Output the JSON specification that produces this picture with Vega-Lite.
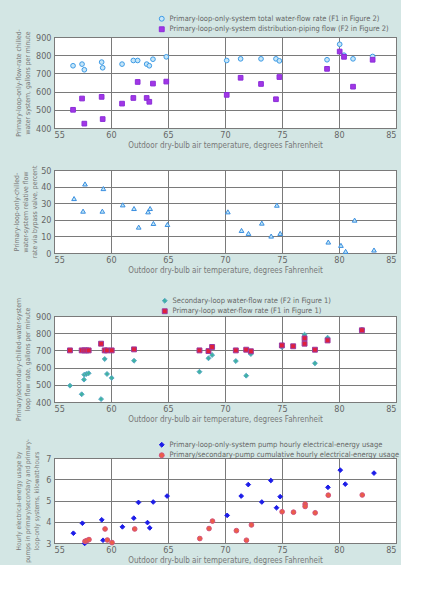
{
  "$schema": "https://vega.github.io/schema/vega-lite/v6.json",
  "background": "#d3e6e4",
  "padding": {"left": 13, "top": 14, "right": 0, "bottom": 0},
  "spacing": 14,
  "datasets": {
    "p1": [
      {"t":56.67,"v":742,"s":"Primary-loop-only-system total water-flow rate (F1 in Figure 2)"},
      {"t":57.46,"v":751,"s":"Primary-loop-only-system total water-flow rate (F1 in Figure 2)"},
      {"t":57.66,"v":720,"s":"Primary-loop-only-system total water-flow rate (F1 in Figure 2)"},
      {"t":59.18,"v":762,"s":"Primary-loop-only-system total water-flow rate (F1 in Figure 2)"},
      {"t":59.27,"v":731,"s":"Primary-loop-only-system total water-flow rate (F1 in Figure 2)"},
      {"t":60.97,"v":751,"s":"Primary-loop-only-system total water-flow rate (F1 in Figure 2)"},
      {"t":61.96,"v":771,"s":"Primary-loop-only-system total water-flow rate (F1 in Figure 2)"},
      {"t":62.34,"v":771,"s":"Primary-loop-only-system total water-flow rate (F1 in Figure 2)"},
      {"t":63.13,"v":751,"s":"Primary-loop-only-system total water-flow rate (F1 in Figure 2)"},
      {"t":63.36,"v":742,"s":"Primary-loop-only-system total water-flow rate (F1 in Figure 2)"},
      {"t":63.68,"v":778,"s":"Primary-loop-only-system total water-flow rate (F1 in Figure 2)"},
      {"t":64.85,"v":791,"s":"Primary-loop-only-system total water-flow rate (F1 in Figure 2)"},
      {"t":70.15,"v":771,"s":"Primary-loop-only-system total water-flow rate (F1 in Figure 2)"},
      {"t":71.37,"v":780,"s":"Primary-loop-only-system total water-flow rate (F1 in Figure 2)"},
      {"t":73.16,"v":780,"s":"Primary-loop-only-system total water-flow rate (F1 in Figure 2)"},
      {"t":74.47,"v":780,"s":"Primary-loop-only-system total water-flow rate (F1 in Figure 2)"},
      {"t":74.77,"v":769,"s":"Primary-loop-only-system total water-flow rate (F1 in Figure 2)"},
      {"t":78.95,"v":775,"s":"Primary-loop-only-system total water-flow rate (F1 in Figure 2)"},
      {"t":80.06,"v":860,"s":"Primary-loop-only-system total water-flow rate (F1 in Figure 2)"},
      {"t":80.44,"v":800,"s":"Primary-loop-only-system total water-flow rate (F1 in Figure 2)"},
      {"t":81.23,"v":780,"s":"Primary-loop-only-system total water-flow rate (F1 in Figure 2)"},
      {"t":82.95,"v":793,"s":"Primary-loop-only-system total water-flow rate (F1 in Figure 2)"},
      {"t":56.67,"v":500,"s":"Primary-loop-only-system distribution-piping flow (F2 in Figure 2)"},
      {"t":57.46,"v":562,"s":"Primary-loop-only-system distribution-piping flow (F2 in Figure 2)"},
      {"t":57.66,"v":424,"s":"Primary-loop-only-system distribution-piping flow (F2 in Figure 2)"},
      {"t":59.18,"v":571,"s":"Primary-loop-only-system distribution-piping flow (F2 in Figure 2)"},
      {"t":59.27,"v":449,"s":"Primary-loop-only-system distribution-piping flow (F2 in Figure 2)"},
      {"t":60.97,"v":534,"s":"Primary-loop-only-system distribution-piping flow (F2 in Figure 2)"},
      {"t":61.96,"v":565,"s":"Primary-loop-only-system distribution-piping flow (F2 in Figure 2)"},
      {"t":62.34,"v":653,"s":"Primary-loop-only-system distribution-piping flow (F2 in Figure 2)"},
      {"t":63.13,"v":565,"s":"Primary-loop-only-system distribution-piping flow (F2 in Figure 2)"},
      {"t":63.36,"v":544,"s":"Primary-loop-only-system distribution-piping flow (F2 in Figure 2)"},
      {"t":63.68,"v":644,"s":"Primary-loop-only-system distribution-piping flow (F2 in Figure 2)"},
      {"t":64.85,"v":655,"s":"Primary-loop-only-system distribution-piping flow (F2 in Figure 2)"},
      {"t":70.15,"v":582,"s":"Primary-loop-only-system distribution-piping flow (F2 in Figure 2)"},
      {"t":71.37,"v":676,"s":"Primary-loop-only-system distribution-piping flow (F2 in Figure 2)"},
      {"t":73.16,"v":642,"s":"Primary-loop-only-system distribution-piping flow (F2 in Figure 2)"},
      {"t":74.47,"v":558,"s":"Primary-loop-only-system distribution-piping flow (F2 in Figure 2)"},
      {"t":74.77,"v":680,"s":"Primary-loop-only-system distribution-piping flow (F2 in Figure 2)"},
      {"t":78.95,"v":725,"s":"Primary-loop-only-system distribution-piping flow (F2 in Figure 2)"},
      {"t":80.06,"v":820,"s":"Primary-loop-only-system distribution-piping flow (F2 in Figure 2)"},
      {"t":80.44,"v":791,"s":"Primary-loop-only-system distribution-piping flow (F2 in Figure 2)"},
      {"t":81.23,"v":627,"s":"Primary-loop-only-system distribution-piping flow (F2 in Figure 2)"},
      {"t":82.95,"v":775,"s":"Primary-loop-only-system distribution-piping flow (F2 in Figure 2)"}
    ],
    "p2": [
      {"t":56.76,"v":32.8},{"t":57.55,"v":25.2},{"t":57.72,"v":41.6},{"t":59.24,"v":25.2},
      {"t":59.33,"v":38.8},{"t":61.03,"v":29.0},{"t":62.02,"v":26.8},{"t":62.43,"v":15.6},
      {"t":63.25,"v":24.8},{"t":63.43,"v":26.8},{"t":63.72,"v":17.8},{"t":64.95,"v":17.2},
      {"t":70.25,"v":24.8},{"t":71.45,"v":13.6},{"t":72.06,"v":11.8},{"t":73.23,"v":18.0},
      {"t":74.05,"v":10.2},{"t":74.55,"v":28.8},{"t":74.84,"v":11.8},{"t":79.06,"v":6.6},
      {"t":80.17,"v":4.6},{"t":80.58,"v":1.0},{"t":81.37,"v":19.8},{"t":83.07,"v":1.8}
    ],
    "p3": [
      {"t":56.4,"v":495,"s":"Secondary-loop water-flow rate (F2 in Figure 1)"},
      {"t":57.43,"v":445,"s":"Secondary-loop water-flow rate (F2 in Figure 1)"},
      {"t":57.63,"v":530,"s":"Secondary-loop water-flow rate (F2 in Figure 1)"},
      {"t":57.66,"v":559,"s":"Secondary-loop water-flow rate (F2 in Figure 1)"},
      {"t":57.84,"v":563,"s":"Secondary-loop water-flow rate (F2 in Figure 1)"},
      {"t":58.04,"v":567,"s":"Secondary-loop water-flow rate (F2 in Figure 1)"},
      {"t":59.13,"v":417,"s":"Secondary-loop water-flow rate (F2 in Figure 1)"},
      {"t":59.45,"v":650,"s":"Secondary-loop water-flow rate (F2 in Figure 1)"},
      {"t":59.65,"v":563,"s":"Secondary-loop water-flow rate (F2 in Figure 1)"},
      {"t":60.06,"v":540,"s":"Secondary-loop water-flow rate (F2 in Figure 1)"},
      {"t":62.02,"v":640,"s":"Secondary-loop water-flow rate (F2 in Figure 1)"},
      {"t":67.76,"v":576,"s":"Secondary-loop water-flow rate (F2 in Figure 1)"},
      {"t":68.55,"v":654,"s":"Secondary-loop water-flow rate (F2 in Figure 1)"},
      {"t":68.87,"v":673,"s":"Secondary-loop water-flow rate (F2 in Figure 1)"},
      {"t":70.95,"v":638,"s":"Secondary-loop water-flow rate (F2 in Figure 1)"},
      {"t":71.86,"v":553,"s":"Secondary-loop water-flow rate (F2 in Figure 1)"},
      {"t":72.27,"v":679,"s":"Secondary-loop water-flow rate (F2 in Figure 1)"},
      {"t":74.99,"v":720,"s":"Secondary-loop water-flow rate (F2 in Figure 1)"},
      {"t":76.98,"v":791,"s":"Secondary-loop water-flow rate (F2 in Figure 1)"},
      {"t":77.89,"v":625,"s":"Secondary-loop water-flow rate (F2 in Figure 1)"},
      {"t":79.0,"v":774,"s":"Secondary-loop water-flow rate (F2 in Figure 1)"},
      {"t":82.01,"v":820,"s":"Secondary-loop water-flow rate (F2 in Figure 1)"},
      {"t":56.4,"v":700,"s":"Primary-loop water-flow rate (F1 in Figure 1)"},
      {"t":57.43,"v":700,"s":"Primary-loop water-flow rate (F1 in Figure 1)"},
      {"t":57.66,"v":700,"s":"Primary-loop water-flow rate (F1 in Figure 1)"},
      {"t":57.84,"v":700,"s":"Primary-loop water-flow rate (F1 in Figure 1)"},
      {"t":58.04,"v":700,"s":"Primary-loop water-flow rate (F1 in Figure 1)"},
      {"t":59.13,"v":739,"s":"Primary-loop water-flow rate (F1 in Figure 1)"},
      {"t":59.45,"v":700,"s":"Primary-loop water-flow rate (F1 in Figure 1)"},
      {"t":59.65,"v":700,"s":"Primary-loop water-flow rate (F1 in Figure 1)"},
      {"t":60.06,"v":700,"s":"Primary-loop water-flow rate (F1 in Figure 1)"},
      {"t":62.02,"v":706,"s":"Primary-loop water-flow rate (F1 in Figure 1)"},
      {"t":67.76,"v":700,"s":"Primary-loop water-flow rate (F1 in Figure 1)"},
      {"t":68.55,"v":696,"s":"Primary-loop water-flow rate (F1 in Figure 1)"},
      {"t":68.87,"v":720,"s":"Primary-loop water-flow rate (F1 in Figure 1)"},
      {"t":70.95,"v":700,"s":"Primary-loop water-flow rate (F1 in Figure 1)"},
      {"t":71.86,"v":704,"s":"Primary-loop water-flow rate (F1 in Figure 1)"},
      {"t":72.27,"v":695,"s":"Primary-loop water-flow rate (F1 in Figure 1)"},
      {"t":74.99,"v":729,"s":"Primary-loop water-flow rate (F1 in Figure 1)"},
      {"t":75.98,"v":724,"s":"Primary-loop water-flow rate (F1 in Figure 1)"},
      {"t":76.98,"v":770,"s":"Primary-loop water-flow rate (F1 in Figure 1)"},
      {"t":76.98,"v":739,"s":"Primary-loop water-flow rate (F1 in Figure 1)"},
      {"t":77.89,"v":704,"s":"Primary-loop water-flow rate (F1 in Figure 1)"},
      {"t":79.0,"v":758,"s":"Primary-loop water-flow rate (F1 in Figure 1)"},
      {"t":82.01,"v":817,"s":"Primary-loop water-flow rate (F1 in Figure 1)"}
    ],
    "p4": [
      {"t":56.7,"v":3.46,"s":"Primary-loop-only-system pump hourly electrical-energy usage"},
      {"t":57.49,"v":3.93,"s":"Primary-loop-only-system pump hourly electrical-energy usage"},
      {"t":57.69,"v":2.98,"s":"Primary-loop-only-system pump hourly electrical-energy usage"},
      {"t":59.19,"v":4.09,"s":"Primary-loop-only-system pump hourly electrical-energy usage"},
      {"t":59.3,"v":3.13,"s":"Primary-loop-only-system pump hourly electrical-energy usage"},
      {"t":61.0,"v":3.76,"s":"Primary-loop-only-system pump hourly electrical-energy usage"},
      {"t":62.0,"v":4.17,"s":"Primary-loop-only-system pump hourly electrical-energy usage"},
      {"t":62.41,"v":4.91,"s":"Primary-loop-only-system pump hourly electrical-energy usage"},
      {"t":63.2,"v":3.96,"s":"Primary-loop-only-system pump hourly electrical-energy usage"},
      {"t":63.4,"v":3.71,"s":"Primary-loop-only-system pump hourly electrical-energy usage"},
      {"t":63.7,"v":4.93,"s":"Primary-loop-only-system pump hourly electrical-energy usage"},
      {"t":64.92,"v":5.21,"s":"Primary-loop-only-system pump hourly electrical-energy usage"},
      {"t":70.19,"v":4.30,"s":"Primary-loop-only-system pump hourly electrical-energy usage"},
      {"t":71.42,"v":5.21,"s":"Primary-loop-only-system pump hourly electrical-energy usage"},
      {"t":72.04,"v":5.75,"s":"Primary-loop-only-system pump hourly electrical-energy usage"},
      {"t":73.23,"v":4.93,"s":"Primary-loop-only-system pump hourly electrical-energy usage"},
      {"t":74.02,"v":5.94,"s":"Primary-loop-only-system pump hourly electrical-energy usage"},
      {"t":74.52,"v":4.66,"s":"Primary-loop-only-system pump hourly electrical-energy usage"},
      {"t":74.84,"v":5.18,"s":"Primary-loop-only-system pump hourly electrical-energy usage"},
      {"t":79.03,"v":5.62,"s":"Primary-loop-only-system pump hourly electrical-energy usage"},
      {"t":80.11,"v":6.43,"s":"Primary-loop-only-system pump hourly electrical-energy usage"},
      {"t":80.55,"v":5.77,"s":"Primary-loop-only-system pump hourly electrical-energy usage"},
      {"t":83.07,"v":6.29,"s":"Primary-loop-only-system pump hourly electrical-energy usage"},
      {"t":57.72,"v":3.08,"s":"Primary/secondary-pump cumulative hourly electrical-energy usage"},
      {"t":57.87,"v":3.11,"s":"Primary/secondary-pump cumulative hourly electrical-energy usage"},
      {"t":58.07,"v":3.16,"s":"Primary/secondary-pump cumulative hourly electrical-energy usage"},
      {"t":59.48,"v":3.66,"s":"Primary/secondary-pump cumulative hourly electrical-energy usage"},
      {"t":59.68,"v":3.14,"s":"Primary/secondary-pump cumulative hourly electrical-energy usage"},
      {"t":60.09,"v":3.02,"s":"Primary/secondary-pump cumulative hourly electrical-energy usage"},
      {"t":62.08,"v":3.66,"s":"Primary/secondary-pump cumulative hourly electrical-energy usage"},
      {"t":67.79,"v":3.21,"s":"Primary/secondary-pump cumulative hourly electrical-energy usage"},
      {"t":68.6,"v":3.68,"s":"Primary/secondary-pump cumulative hourly electrical-energy usage"},
      {"t":68.9,"v":4.03,"s":"Primary/secondary-pump cumulative hourly electrical-energy usage"},
      {"t":71.0,"v":3.58,"s":"Primary/secondary-pump cumulative hourly electrical-energy usage"},
      {"t":71.88,"v":3.13,"s":"Primary/secondary-pump cumulative hourly electrical-energy usage"},
      {"t":72.32,"v":3.85,"s":"Primary/secondary-pump cumulative hourly electrical-energy usage"},
      {"t":75.01,"v":4.47,"s":"Primary/secondary-pump cumulative hourly electrical-energy usage"},
      {"t":76.01,"v":4.45,"s":"Primary/secondary-pump cumulative hourly electrical-energy usage"},
      {"t":77.03,"v":4.83,"s":"Primary/secondary-pump cumulative hourly electrical-energy usage"},
      {"t":77.03,"v":4.72,"s":"Primary/secondary-pump cumulative hourly electrical-energy usage"},
      {"t":77.91,"v":4.42,"s":"Primary/secondary-pump cumulative hourly electrical-energy usage"},
      {"t":79.06,"v":5.25,"s":"Primary/secondary-pump cumulative hourly electrical-energy usage"},
      {"t":82.04,"v":5.26,"s":"Primary/secondary-pump cumulative hourly electrical-energy usage"}
    ]
  },
  "vconcat": [
    {
      "width": 342, "height": 91,
      "data": {"name": "p1"},
      "mark": {"type": "point", "filled": true, "strokeWidth": 1, "opacity": 1, "size": 22},
      "encoding": {
        "x": {"field": "t", "type": "quantitative", "scale": {"domain": [55, 85], "nice": false, "zero": false},
              "axis": {"values": [55,60,65,70,75,80,85], "title": "Outdoor dry-bulb air temperature, degrees Fahrenheit"}},
        "y": {"field": "v", "type": "quantitative", "scale": {"domain": [400, 900], "nice": false, "zero": false},
              "axis": {"values": [400,500,600,700,800,900], "title": ["Primary-loop-only-flow-rate chilled-", "water system, gallons per minute"], "titlePadding": 5}},
        "fill": {"field": "s", "type": "nominal", "title": null,
                 "scale": {"domain": ["Primary-loop-only-system total water-flow rate (F1 in Figure 2)", "Primary-loop-only-system distribution-piping flow (F2 in Figure 2)"], "range": ["#c6e6f8", "#a236e6"]},
                 "legend": {"orient": "none", "legendX": 104, "legendY": -22}},
        "stroke": {"field": "s", "type": "nominal", "title": null,
                 "scale": {"domain": ["Primary-loop-only-system total water-flow rate (F1 in Figure 2)", "Primary-loop-only-system distribution-piping flow (F2 in Figure 2)"], "range": ["#3d9be6", "#8a2fd8"]},
                 "legend": {"orient": "none", "legendX": 104, "legendY": -22}},
        "shape": {"field": "s", "type": "nominal", "title": null,
                 "scale": {"domain": ["Primary-loop-only-system total water-flow rate (F1 in Figure 2)", "Primary-loop-only-system distribution-piping flow (F2 in Figure 2)"], "range": ["circle", "square"]},
                 "legend": {"orient": "none", "legendX": 104, "legendY": -22}}
      }
    },
    {
      "width": 342, "height": 83,
      "data": {"name": "p2"},
      "mark": {"type": "point", "shape": "triangle-up", "filled": true, "fill": "#bfe6f5", "stroke": "#3a8ee0", "strokeWidth": 1, "size": 22, "opacity": 1},
      "encoding": {
        "x": {"field": "t", "type": "quantitative", "scale": {"domain": [55, 85], "nice": false, "zero": false},
              "axis": {"values": [55,60,65,70,75,80,85], "title": "Outdoor dry-bulb air temperature, degrees Fahrenheit"}},
        "y": {"field": "v", "type": "quantitative", "scale": {"domain": [0, 50], "nice": false},
              "axis": {"values": [0,10,20,30,40,50], "title": ["Primary-loop-only-chilled-", "water-system relative flow", "rate via bypass valve, percent"], "titlePadding": 3}}
      }
    },
    {
      "width": 342, "height": 86,
      "data": {"name": "p3"},
      "mark": {"type": "point", "filled": true, "strokeWidth": 1, "opacity": 1, "size": 24},
      "encoding": {
        "x": {"field": "t", "type": "quantitative", "scale": {"domain": [55, 85], "nice": false, "zero": false},
              "axis": {"values": [55,60,65,70,75,80,85], "title": "Outdoor dry-bulb air temperature, degrees Fahrenheit"}},
        "y": {"field": "v", "type": "quantitative", "scale": {"domain": [400, 900], "nice": false, "zero": false},
              "axis": {"values": [400,500,600,700,800,900], "title": ["Primary/secondary-chilled-water-system", "loop flow rate, gallons per minute"], "titlePadding": 5}},
        "fill": {"field": "s", "type": "nominal", "title": null,
                 "scale": {"domain": ["Secondary-loop water-flow rate (F2 in Figure 1)", "Primary-loop water-flow rate (F1 in Figure 1)"], "range": ["#3fb3a0", "#e0203c"]},
                 "legend": {"orient": "none", "legendX": 100, "legendY": -26, "padding": 7}},
        "stroke": {"field": "s", "type": "nominal", "title": null,
                 "scale": {"domain": ["Secondary-loop water-flow rate (F2 in Figure 1)", "Primary-loop water-flow rate (F1 in Figure 1)"], "range": ["#5aa8c8", "#9a3aa0"]},
                 "legend": {"orient": "none", "legendX": 100, "legendY": -26, "padding": 7}},
        "shape": {"field": "s", "type": "nominal", "title": null,
                 "scale": {"domain": ["Secondary-loop water-flow rate (F2 in Figure 1)", "Primary-loop water-flow rate (F1 in Figure 1)"], "range": ["diamond", "square"]},
                 "legend": {"orient": "none", "legendX": 100, "legendY": -26, "padding": 7}}
      }
    },
    {
      "width": 342, "height": 85,
      "data": {"name": "p4"},
      "mark": {"type": "point", "filled": true, "strokeWidth": 1, "opacity": 1, "size": 22},
      "encoding": {
        "x": {"field": "t", "type": "quantitative", "scale": {"domain": [55, 85], "nice": false, "zero": false},
              "axis": {"values": [55,60,65,70,75,80,85], "title": "Outdoor dry-bulb air temperature, degrees Fahrenheit"}},
        "y": {"field": "v", "type": "quantitative", "scale": {"domain": [3, 7], "nice": false, "zero": false},
              "axis": {"values": [3,4,5,6,7], "title": ["Hourly electrical-energy usage by", "pumps in primary/secondary and primary-", "loop-only systems, kilowatt-hours"], "titlePadding": 6, "titleFontSize": 6.5}},
        "fill": {"field": "s", "type": "nominal", "title": null,
                 "scale": {"domain": ["Primary-loop-only-system pump hourly electrical-energy usage", "Primary/secondary-pump cumulative hourly electrical-energy usage"], "range": ["#1c1ce8", "#ec5e46"]},
                 "legend": {"orient": "none", "legendX": 104, "legendY": -17}},
        "stroke": {"field": "s", "type": "nominal", "title": null,
                 "scale": {"domain": ["Primary-loop-only-system pump hourly electrical-energy usage", "Primary/secondary-pump cumulative hourly electrical-energy usage"], "range": ["#1c1ce8", "#d4507a"]},
                 "legend": {"orient": "none", "legendX": 104, "legendY": -17}},
        "shape": {"field": "s", "type": "nominal", "title": null,
                 "scale": {"domain": ["Primary-loop-only-system pump hourly electrical-energy usage", "Primary/secondary-pump cumulative hourly electrical-energy usage"], "range": ["diamond", "circle"]},
                 "legend": {"orient": "none", "legendX": 104, "legendY": -17}}
      }
    }
  ],
  "resolve": {"scale": {"fill": "independent", "stroke": "independent", "shape": "independent"}, "legend": {"fill": "independent", "stroke": "independent", "shape": "independent"}},
  "config": {
    "font": "DejaVu Sans Condensed, sans-serif",
    "view": {"stroke": "#555555", "strokeWidth": 1, "fill": "white"},
    "axis": {
      "labelFont": "DejaVu Sans Condensed, sans-serif",
      "labelFontSize": 9, "labelColor": "#666666",
      "titleFont": "DejaVu Sans Condensed, sans-serif",
      "titleFontSize": 8, "titleColor": "#777777", "titleFontWeight": "normal",
      "gridColor": "#7a7a7a", "gridOpacity": 1, "gridWidth": 1,
      "domain": false, "ticks": false, "labelPadding": 3
    },
    "axisY": {"titleFontSize": 6.8, "titleLineHeight": 9},
    "axisX": {"titlePadding": 2, "labelPadding": 2},
    "legend": {
      "labelFont": "DejaVu Sans Condensed, sans-serif",
      "labelFontSize": 7.5, "labelColor": "#666666", "labelLimit": 400,
      "rowPadding": 0.5, "padding": 0, "symbolSize": 24, "labelOffset": 4,
      "symbolStrokeWidth": 1
    }
  }
}
